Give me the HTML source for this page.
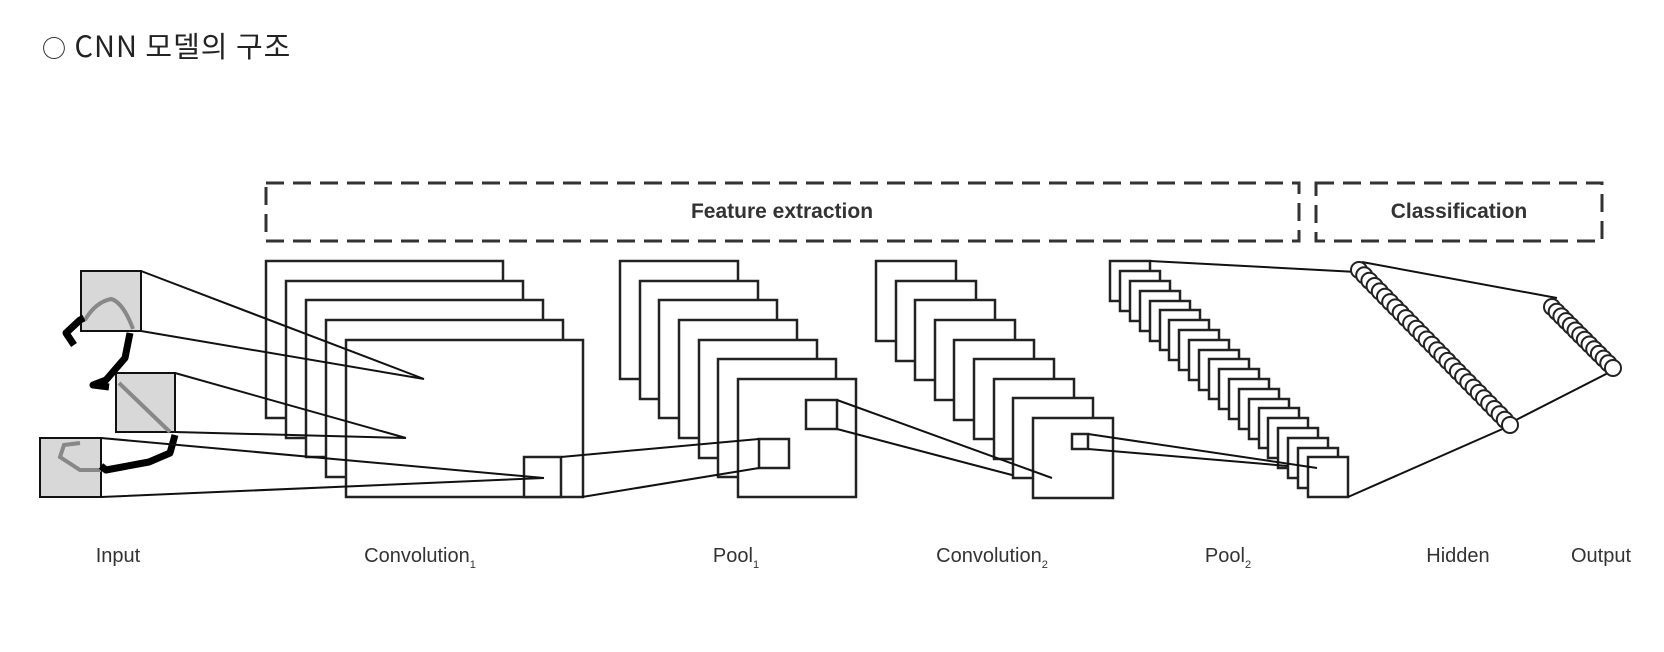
<!DOCTYPE html>
<html><head><meta charset="utf-8"><style>
html,body{margin:0;padding:0;background:#fff;width:1664px;height:652px;overflow:hidden}
svg{display:block}
</style></head><body>
<svg width="1664" height="652" viewBox="0 0 1664 652" xmlns="http://www.w3.org/2000/svg">
<text x="42" y="57" font-family="'Noto Sans CJK KR',sans-serif" font-weight="400" font-size="29" letter-spacing="1" fill="#222"><tspan font-size="24">○</tspan> CNN 모델의 구조</text>
<g fill="none" stroke="#333" stroke-width="3" stroke-dasharray="18,9">
<rect x="266" y="183" width="1033" height="58"/>
<rect x="1316" y="183" width="286" height="58"/>
</g>
<g font-family="'Liberation Sans',sans-serif" font-weight="bold" font-size="21" fill="#333" text-anchor="middle">
<text x="782" y="218">Feature extraction</text>
<text x="1459" y="218">Classification</text>
</g>
<g fill="#fff" stroke="#222" stroke-width="2.5">
<rect x="266" y="261" width="237" height="157"/>
<rect x="286" y="281" width="237" height="157"/>
<rect x="306" y="300" width="237" height="157"/>
<rect x="326" y="320" width="237" height="157"/>
<rect x="346" y="340" width="237" height="157"/>
<rect x="620" y="261" width="118" height="118"/>
<rect x="640" y="281" width="118" height="118"/>
<rect x="659" y="300" width="118" height="118"/>
<rect x="679" y="320" width="118" height="118"/>
<rect x="699" y="340" width="118" height="118"/>
<rect x="718" y="359" width="118" height="118"/>
<rect x="738" y="379" width="118" height="118"/>
<rect x="876" y="261" width="80" height="80"/>
<rect x="896" y="281" width="80" height="80"/>
<rect x="915" y="300" width="80" height="80"/>
<rect x="935" y="320" width="80" height="80"/>
<rect x="954" y="340" width="80" height="80"/>
<rect x="974" y="359" width="80" height="80"/>
<rect x="994" y="379" width="80" height="80"/>
<rect x="1013" y="398" width="80" height="80"/>
<rect x="1033" y="418" width="80" height="80"/>
<rect x="1110" y="261" width="40" height="40"/>
<rect x="1120" y="271" width="40" height="40"/>
<rect x="1130" y="281" width="40" height="40"/>
<rect x="1140" y="291" width="40" height="40"/>
<rect x="1150" y="301" width="40" height="40"/>
<rect x="1160" y="310" width="40" height="40"/>
<rect x="1169" y="320" width="40" height="40"/>
<rect x="1179" y="330" width="40" height="40"/>
<rect x="1189" y="340" width="40" height="40"/>
<rect x="1199" y="350" width="40" height="40"/>
<rect x="1209" y="359" width="40" height="40"/>
<rect x="1219" y="369" width="40" height="40"/>
<rect x="1229" y="379" width="40" height="40"/>
<rect x="1239" y="389" width="40" height="40"/>
<rect x="1249" y="399" width="40" height="40"/>
<rect x="1259" y="408" width="40" height="40"/>
<rect x="1268" y="418" width="40" height="40"/>
<rect x="1278" y="428" width="40" height="40"/>
<rect x="1288" y="438" width="40" height="40"/>
<rect x="1298" y="448" width="40" height="40"/>
<rect x="1308" y="457" width="40" height="40"/>
<rect x="524" y="457" width="37" height="40"/>
<rect x="759" y="439" width="30" height="29"/>
<rect x="806" y="400" width="31" height="29"/>
<rect x="1072" y="434" width="16" height="15"/>
</g>
<g fill="none" stroke="#111" stroke-width="2">
<rect x="81" y="271" width="60" height="60" fill="#d8d8d8"/>
<rect x="116" y="373" width="59" height="59" fill="#d8d8d8"/>
<rect x="40" y="438" width="61" height="59" fill="#d8d8d8"/>
<path d="M85,320 C92,308 101,301 111,299 C120,301 128,315 133,329" stroke="#888" stroke-width="4"/>
<path d="M119,383 L170,432" stroke="#888" stroke-width="4"/>
<path d="M101,470 L80,470 L60,457 L64,445 L80,443" stroke="#888" stroke-width="4"/>
<path d="M74,345 L66,333 L80,320 L84,318 M130,333 L125,358 L106,380 L93,385 L109,387 M175,435 L170,453 L149,462 L106,470 L101,466" stroke="#000" stroke-width="7" stroke-linejoin="round"/>
<path d="M141,271 L424,379 M141,331 L424,379 M175,373 L406,438 M175,432 L406,438 M101,438 L544,478 M101,497 L544,478"/>
<path d="M561,457 L759,439 M582,497 L759,468"/>
<path d="M837,400 L1052,478 M837,429 L1012,475"/>
<path d="M1088,434 L1317,468 M1088,449 L1288,466"/>
<path d="M1150,261 L1357,272 M1362,262 L1557,298 M1348,497 L1507,427 M1610,372 L1512,422"/>
</g>
<g fill="#fff" stroke="#222" stroke-width="2">
<circle cx="1359" cy="270" r="8"/><circle cx="1364.2" cy="275.3" r="8"/><circle cx="1369.4" cy="280.7" r="8"/><circle cx="1374.6" cy="286" r="8"/><circle cx="1379.8" cy="291.4" r="8"/><circle cx="1385" cy="296.7" r="8"/><circle cx="1390.2" cy="302.1" r="8"/><circle cx="1395.4" cy="307.4" r="8"/><circle cx="1400.7" cy="312.8" r="8"/><circle cx="1405.9" cy="318.1" r="8"/><circle cx="1411.1" cy="323.5" r="8"/><circle cx="1416.3" cy="328.8" r="8"/><circle cx="1421.5" cy="334.1" r="8"/><circle cx="1426.7" cy="339.5" r="8"/><circle cx="1431.9" cy="344.8" r="8"/><circle cx="1437.1" cy="350.2" r="8"/><circle cx="1442.3" cy="355.5" r="8"/><circle cx="1447.5" cy="360.9" r="8"/><circle cx="1452.7" cy="366.2" r="8"/><circle cx="1457.9" cy="371.6" r="8"/><circle cx="1463.1" cy="376.9" r="8"/><circle cx="1468.3" cy="382.3" r="8"/><circle cx="1473.6" cy="387.6" r="8"/><circle cx="1478.8" cy="392.9" r="8"/><circle cx="1484" cy="398.3" r="8"/><circle cx="1489.2" cy="403.6" r="8"/><circle cx="1494.4" cy="409" r="8"/><circle cx="1499.6" cy="414.3" r="8"/><circle cx="1504.8" cy="419.7" r="8"/><circle cx="1510" cy="425" r="8"/>
<circle cx="1552" cy="307" r="8"/><circle cx="1556.7" cy="311.7" r="8"/><circle cx="1561.4" cy="316.4" r="8"/><circle cx="1566.1" cy="321.1" r="8"/><circle cx="1570.8" cy="325.8" r="8"/><circle cx="1575.5" cy="330.5" r="8"/><circle cx="1580.2" cy="335.2" r="8"/><circle cx="1584.8" cy="339.8" r="8"/><circle cx="1589.5" cy="344.5" r="8"/><circle cx="1594.2" cy="349.2" r="8"/><circle cx="1598.9" cy="353.9" r="8"/><circle cx="1603.6" cy="358.6" r="8"/><circle cx="1608.3" cy="363.3" r="8"/><circle cx="1613" cy="368" r="8"/>
</g>
<g font-family="'Liberation Sans',sans-serif" font-size="20" fill="#333" text-anchor="middle">
<text x="118" y="562">Input</text>
<text x="420" y="562">Convolution<tspan font-size="11" dy="6">1</tspan></text>
<text x="736" y="562">Pool<tspan font-size="11" dy="6">1</tspan></text>
<text x="992" y="562">Convolution<tspan font-size="11" dy="6">2</tspan></text>
<text x="1228" y="562">Pool<tspan font-size="11" dy="6">2</tspan></text>
<text x="1458" y="562">Hidden</text>
<text x="1601" y="562">Output</text>
</g>
</svg>
</body></html>
